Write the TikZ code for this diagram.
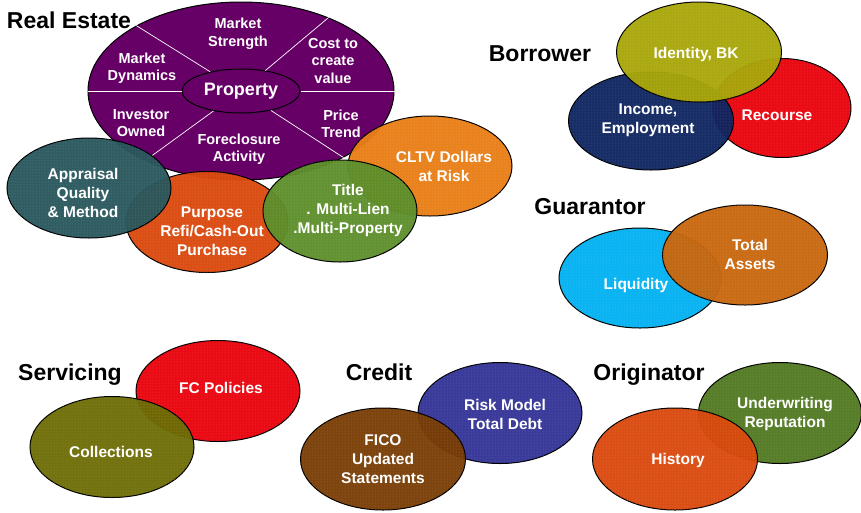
\documentclass[tikz,border=0pt]{standalone}
\usepackage{fontspec}
\setmainfont{Liberation Sans}
\usetikzlibrary{shapes.geometric,patterns}

\definecolor{plum}{RGB}{102,0,102}
\definecolor{slateteal}{RGB}{40,86,92}
\definecolor{burnt}{RGB}{218,72,12}
\definecolor{grass}{RGB}{92,142,42}
\definecolor{amber}{RGB}{232,125,20}
\definecolor{olivey}{RGB}{168,166,8}
\definecolor{navy}{RGB}{14,36,96}
\definecolor{signal}{RGB}{232,0,10}
\definecolor{sky}{RGB}{0,176,240}
\definecolor{copper}{RGB}{200,102,12}
\definecolor{moss}{RGB}{108,108,4}
\definecolor{indigo}{RGB}{50,50,150}
\definecolor{cocoa}{RGB}{120,60,4}
\definecolor{fern}{RGB}{80,120,32}

\tikzset{
  blob/.style={ellipse, draw=black, line width=1pt, fill=#1, fill opacity=0.96,
    inner sep=0pt, postaction={pattern=dots, pattern color=#1!72!white}},
  blobtext/.style={text=white, align=center, inner sep=0pt,
    font=\bfseries\fontsize{15.5}{19}\selectfont},
  sector/.style={text=white, align=center, inner sep=0pt,
    font=\bfseries\fontsize{14.5}{17.5}\selectfont},
  heading/.style={inner sep=0pt, font=\bfseries\fontsize{23}{27}\selectfont},
  spoke/.style={white, line width=0.7pt}
}

\begin{document}
\begin{tikzpicture}[x=1pt,y=-1pt]
\useasboundingbox (0,0) rectangle (861,512);

% real estate wheel
\node[heading] (hre) at (69,20) {Real Estate};
\node[ellipse, draw=black, line width=1pt, fill=plum, minimum width=306pt, minimum height=178pt] (re) at (241,91) {};
\node[ellipse, draw=black, line width=1pt, minimum width=118pt, minimum height=44pt,
  text=white, font=\bfseries\fontsize{18}{20}\selectfont] (prop) at (241,91) {Property};
\draw[spoke] (prop.west) -- (re.west);
\draw[spoke] (prop.east) -- (re.east);
\foreach \a in {40,148,216,327}
  \draw[spoke] (prop.\a) -- (re.\a);
\node[sector] (ms) at (238,34) {Market\\Strength};
\node[sector] (cost) at (333,61) {Cost to\\create\\value};
\node[sector] (md) at (142,68) {Market\\Dynamics};
\node[sector] (inv) at (141,123) {Investor\\Owned};
\node[sector] (price) at (341,124) {Price\\Trend};
\node[sector] (fcl) at (239,149) {Foreclosure\\Activity};

\node[blob=amber, minimum width=164pt, minimum height=100pt] (cltv) at (430,166) {};
\node[blobtext] (tcltv) at (444,166) {CLTV Dollars\\at Risk};
\node[blob=burnt, minimum width=162pt, minimum height=101pt] (purp) at (207,222) {};
\node[blobtext] (tpurp) at (212,231) {Purpose\\Refi/Cash-Out\\Purchase};
\node[blob=slateteal, minimum width=164pt, minimum height=100pt] (appr) at (89,188) {};
\node[blobtext] (tappr) at (83,193) {Appraisal\\Quality\\\& Method};
\node[blob=grass, minimum width=154pt, minimum height=102pt] (title) at (340,211) {};
\node[blobtext] (ttitle) at (348,210) {Title\\. Multi-Lien\\.Multi-Property};

% borrower
\node[heading] (hbor) at (540,54) {Borrower};
\node[blob=signal, minimum width=138pt, minimum height=99pt] (rec) at (782,108) {};
\node[blobtext] (trec) at (777,115) {Recourse};
\node[blob=navy, minimum width=165pt, minimum height=98pt] (inc) at (651,121) {};
\node[blobtext] (tinc) at (648,120) {Income,\\Employment};
\node[blob=olivey, minimum width=165pt, minimum height=100pt] (ident) at (699,52) {};
\node[blobtext] (tident) at (696,54) {Identity, BK};

% guarantor
\node[heading] (hgua) at (590,207) {Guarantor};
\node[blob=sky, minimum width=162pt, minimum height=100pt] (liq) at (640,278) {};
\node[blobtext] (tliq) at (636,285) {Liquidity};
\node[blob=copper, minimum width=165pt, minimum height=100pt] (assets) at (745,255) {};
\node[blobtext] (tassets) at (750,254) {Total\\Assets};

% servicing
\node[heading] (hserv) at (70,375) {Servicing};
\node[blob=signal, minimum width=164pt, minimum height=101pt] (fcp) at (218,391) {};
\node[blobtext] (tfcp) at (221,388) {FC Policies};
\node[blob=moss, minimum width=164pt, minimum height=101pt] (coll) at (112,447) {};
\node[blobtext] (tcoll) at (111,452) {Collections};

% credit
\node[heading] (hcred) at (379,372) {Credit};
\node[blob=indigo, minimum width=164pt, minimum height=101pt] (risk) at (500,413) {};
\node[blobtext] (trisk) at (505,414) {Risk Model\\Total Debt};
\node[blob=cocoa, minimum width=165pt, minimum height=102pt] (fico) at (383,459) {};
\node[blobtext] (tfico) at (383,459) {FICO\\Updated\\Statements};

% originator
\node[heading] (horig) at (649,375) {Originator};
\node[blob=fern, minimum width=163pt, minimum height=101pt] (uw) at (780,413) {};
\node[blobtext] (tuw) at (785,414) {Underwriting\\Reputation};
\node[blob=burnt, minimum width=165pt, minimum height=102pt] (hist) at (675,459) {};
\node[blobtext] (thist) at (678,460) {History};
\end{tikzpicture}
\end{document}
